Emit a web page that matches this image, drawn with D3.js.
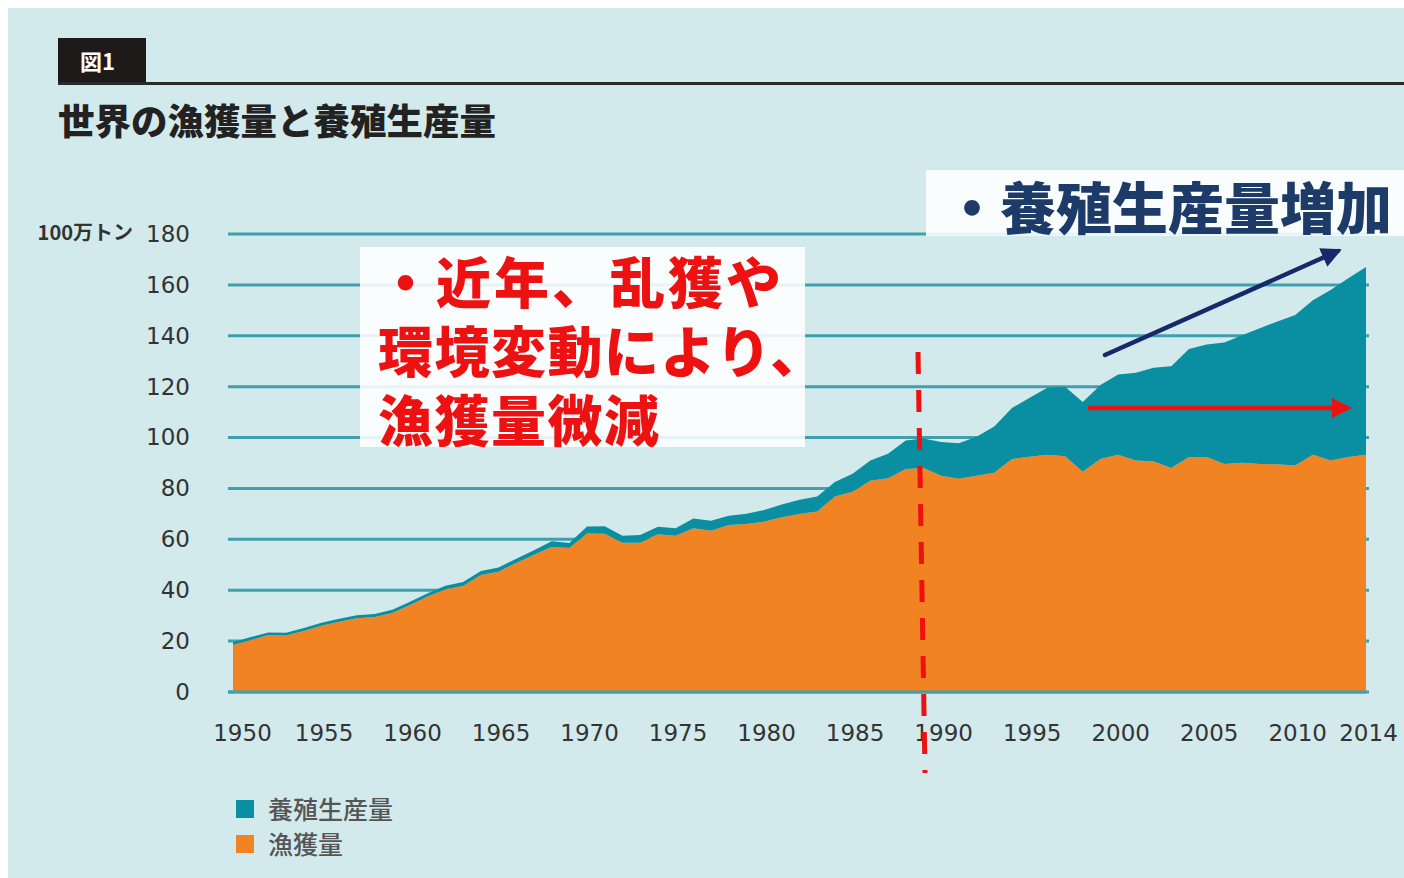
<!doctype html>
<html>
<head>
<meta charset="utf-8"/>
<title>世界の漁獲量と養殖生産量</title>
<script src="https://d3js.org/d3.v7.min.js"></script>
<style>
  body { margin: 0; background: #ffffff; }
  svg { display: block; }
</style>
</head>
<body>
<script>
// data (100万トン)
var years = d3.range(1950, 2015);
var capture = [18.5, 20.4, 22.4, 22.2, 24.0, 26.0, 27.6, 29.0, 29.5, 31.0,
               34.2, 37.5, 40.4, 41.7, 46.0, 47.3, 50.7, 53.9, 57.0, 56.6,
               62.3, 62.2, 58.7, 58.7, 62.0, 61.4, 64.4, 63.4, 65.6, 66.0,
               66.9, 68.7, 70.0, 70.9, 76.8, 78.7, 83.0, 84.0, 87.6, 88.0,
               85.0, 83.8, 85.0, 86.2, 91.6, 92.5, 93.2, 92.7, 86.6, 91.6,
               93.2, 91.0, 90.6, 88.0, 92.4, 92.4, 89.6, 90.1, 89.6, 89.5,
               89.0, 93.2, 91.0, 92.4, 93.2];
var aquaculture = [1.1, 1.2, 1.0, 1.1, 1.2, 1.2, 1.2, 1.2, 1.2, 1.3,
                   1.3, 1.3, 1.4, 1.5, 1.6, 1.6, 1.7, 1.8, 2.2, 2.0,
                   2.7, 2.9, 2.7, 3.0, 2.9, 3.0, 3.8, 3.9, 3.7, 4.1,
                   4.6, 5.0, 5.6, 5.9, 5.7, 7.1, 8.0, 9.6, 11.2, 11.6,
                   13.3, 14.0, 15.3, 18.1, 20.0, 23.1, 26.4, 27.3, 27.4, 29.1,
                   31.6, 34.5, 36.8, 40.0, 42.4, 44.2, 47.8, 50.1, 53.4, 56.1,
                   59.2, 60.8, 67.0, 70.2, 73.8];
var yTicks = [0, 20, 40, 60, 80, 100, 120, 140, 160, 180];
var xTicks = [1950, 1955, 1960, 1965, 1970, 1975, 1980, 1985, 1990, 1995, 2000, 2005, 2010, 2014];
var seriesKeys = ["capture", "aquaculture"];
var legendLabels = ["養殖生産量", "漁獲量"];

var colTeal = "#0a8fa2", colOrange = "#f28322", colGrid = "#3f9fad", colBg = "#d2eaec";
var jp = "'Noto Sans CJK JP', 'Noto Sans', sans-serif";
var num = "'DejaVu Sans', sans-serif";

var svg = d3.select("body").append("svg")
    .attr("width", 1404)
    .attr("height", 878);

svg.append("rect").attr("x", 8).attr("y", 8).attr("width", 1396).attr("height", 870).attr("fill", colBg);

// header
svg.append("rect").attr("x", 58).attr("y", 38).attr("width", 88).attr("height", 45).attr("fill", "#1e1a1a");
svg.append("text").attr("x", 80).attr("y", 70).attr("fill", "#ffffff")
    .attr("font-family", jp).attr("font-weight", 700).attr("font-size", 22).text("図1");
svg.append("line").attr("x1", 58).attr("x2", 1404).attr("y1", 83.5).attr("y2", 83.5)
    .attr("stroke", "#2a2a2a").attr("stroke-width", 3);
svg.append("text").attr("x", 58).attr("y", 135).attr("fill", "#222")
    .attr("font-family", jp).attr("font-weight", 900).attr("font-size", 36.5).text("世界の漁獲量と養殖生産量");

var x = d3.scaleLinear().domain([1950, 2014]).range([233, 1366]);
var y = d3.scaleLinear().domain([0, 180]).range([692, 234]);

// grid
svg.append("g").selectAll("line").data(yTicks).join("line")
    .attr("x1", 228).attr("x2", 1369)
    .attr("y1", function(d) { return y(d); }).attr("y2", function(d) { return y(d); })
    .attr("stroke", colGrid).attr("stroke-width", 3);

// stacked areas
var table = years.map(function(yr, i) { return {year: yr, capture: capture[i], aquaculture: aquaculture[i]}; });
var stacked = d3.stack().keys(seriesKeys)(table);
var area = d3.area()
    .x(function(d) { return x(d.data.year); })
    .y0(function(d) { return y(d[0]); })
    .y1(function(d) { return y(d[1]); });
svg.append("g").selectAll("path").data(stacked).join("path")
    .attr("d", area)
    .attr("fill", function(d) { return d.key == "capture" ? colOrange : colTeal; });

// baseline
svg.append("line").attr("x1", 228).attr("x2", 1366).attr("y1", y(0)).attr("y2", y(0))
    .attr("stroke", colGrid).attr("stroke-width", 3);

// axes
var yAxis = svg.append("g").attr("transform", "translate(190,0)")
    .call(d3.axisLeft(y).tickValues(yTicks).tickSize(0).tickPadding(0));
yAxis.select(".domain").remove();
yAxis.selectAll("text").attr("font-family", num).attr("font-size", 23).attr("fill", "#333");

var xAxis = svg.append("g").attr("transform", "translate(2," + y(0) + ")")
    .call(d3.axisBottom(x).tickValues(xTicks).tickSize(0).tickPadding(33).tickFormat(d3.format("d")));
xAxis.select(".domain").remove();
xAxis.selectAll("text").attr("font-family", num).attr("font-size", 23).attr("fill", "#333")
    .attr("dx", function(d) { return d == 1950 ? 7 : 0; });

svg.append("text").attr("x", 133).attr("y", 240).attr("text-anchor", "end").attr("fill", "#333")
    .attr("font-family", jp).attr("font-weight", 700).attr("font-size", 20).text("100万トン");

// legend
var legendColors = [colTeal, colOrange];
var lg = svg.append("g").selectAll("g").data(legendLabels).join("g")
    .attr("transform", function(d, i) { return "translate(236," + (800 + i * 35) + ")"; });
lg.append("rect").attr("width", 18).attr("height", 18).attr("fill", function(d, i) { return legendColors[i]; });
lg.append("text").attr("x", 32).attr("y", 19).attr("fill", "#555")
    .attr("font-family", jp).attr("font-weight", 500).attr("font-size", 25).text(function(d) { return d; });

// annotation: red box
svg.append("rect").attr("x", 360).attr("y", 247).attr("width", 445).attr("height", 200)
    .attr("fill", "#ffffff").attr("opacity", 0.88);
var redLines = ["・近年、乱獲や", "環境変動により、", "漁獲量微減"];
svg.append("g").selectAll("text").data(redLines).join("text")
    .attr("x", 378).attr("y", function(d, i) { return 303 + i * 69; })
    .attr("fill", "#ee1111").attr("font-family", jp).attr("font-weight", 900).attr("font-size", 55)
    .attr("letter-spacing", function(d, i) { return i == 0 ? 3 : 1.5; })
    .text(function(d) { return d; });

// annotation: navy box
svg.append("rect").attr("x", 926).attr("y", 170).attr("width", 478).attr("height", 66)
    .attr("fill", "#ffffff").attr("opacity", 0.88);
svg.append("text").attr("x", 944).attr("y", 229).attr("fill", "#1d3b69")
    .attr("font-family", jp).attr("font-weight", 900).attr("font-size", 56).text("・養殖生産量増加");

// dashed line
svg.append("line").attr("x1", 918).attr("y1", 352).attr("x2", 925).attr("y2", 773)
    .attr("stroke", "#ee1111").attr("stroke-width", 5).attr("stroke-dasharray", "22,16");

// arrows
var defs = svg.append("defs");
function marker(id, col) {
  defs.append("marker").attr("id", id).attr("viewBox", "0 0 10 10").attr("refX", 8).attr("refY", 5)
      .attr("markerWidth", 4.5).attr("markerHeight", 4.5).attr("orient", "auto")
      .append("path").attr("d", "M0,0L10,5L0,10Z").attr("fill", col);
}
marker("navyHead", "#16296a");
marker("redHead", "#ee1111");
svg.append("line").attr("x1", 1105).attr("y1", 355).attr("x2", 1338).attr("y2", 251)
    .attr("stroke", "#16296a").attr("stroke-width", 4.5).attr("stroke-linecap", "round")
    .attr("marker-end", "url(#navyHead)");
svg.append("line").attr("x1", 1088).attr("y1", 408).attr("x2", 1348).attr("y2", 408)
    .attr("stroke", "#ee1111").attr("stroke-width", 4.5)
    .attr("marker-end", "url(#redHead)");
</script>
</body>
</html>
